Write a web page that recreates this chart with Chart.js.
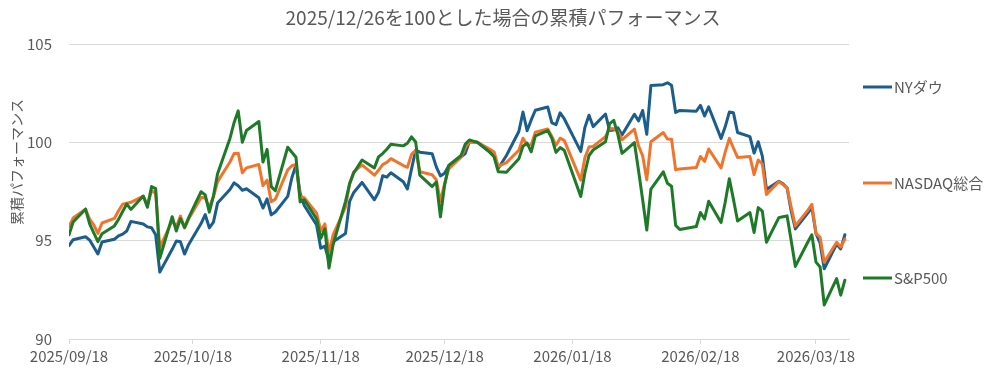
<!DOCTYPE html>
<html><head><meta charset="utf-8">
<script src="https://cdn.jsdelivr.net/npm/chart.js@4.4.1/dist/chart.umd.min.js"></script>
<style>html,body{margin:0;padding:0;background:#ffffff;}#wrap{width:989px;height:382px;}</style>
</head><body><div id="wrap"><canvas id="c" width="989" height="382"></canvas></div>
<script>
const chartTitle = '2025/12/26を100とした場合の累積パフォーマンス';
const yAxisTitle = '累積パフォーマンス';
const seriesNames = ['NYダウ', 'NASDAQ総合', 'S&P500'];
const xTickLabels = ['2025/09/18','2025/10/18','2025/11/18','2025/12/18','2026/01/18','2026/02/18','2026/03/18'];
const xAxisStart = '2025/09/18';
const xAxisEnd = '2026/03/26';
const yTicks = [90, 95, 100, 105];

const dates = [
'2025/09/18','2025/09/19','2025/09/22','2025/09/23','2025/09/24','2025/09/25','2025/09/26','2025/09/29','2025/09/30',
'2025/10/01','2025/10/02','2025/10/03','2025/10/06','2025/10/07','2025/10/08','2025/10/09','2025/10/10','2025/10/13','2025/10/14','2025/10/15','2025/10/16','2025/10/17','2025/10/20','2025/10/21','2025/10/22','2025/10/23','2025/10/24','2025/10/27','2025/10/28','2025/10/29','2025/10/30','2025/10/31',
'2025/11/03','2025/11/04','2025/11/05','2025/11/06','2025/11/07','2025/11/10','2025/11/11','2025/11/12','2025/11/13','2025/11/14','2025/11/17','2025/11/18','2025/11/19','2025/11/20','2025/11/21','2025/11/24','2025/11/25','2025/11/26','2025/11/28',
'2025/12/01','2025/12/02','2025/12/03','2025/12/04','2025/12/05','2025/12/08','2025/12/09','2025/12/10','2025/12/11','2025/12/12','2025/12/15','2025/12/16','2025/12/17','2025/12/18','2025/12/19','2025/12/22','2025/12/23','2025/12/24','2025/12/26','2025/12/29','2025/12/30','2025/12/31',
'2026/01/02','2026/01/05','2026/01/06','2026/01/07','2026/01/08','2026/01/09','2026/01/12','2026/01/13','2026/01/14','2026/01/15','2026/01/16','2026/01/20','2026/01/21','2026/01/22','2026/01/23','2026/01/26','2026/01/27','2026/01/28','2026/01/29','2026/01/30',
'2026/02/02','2026/02/03','2026/02/04','2026/02/05','2026/02/06','2026/02/09','2026/02/10','2026/02/11','2026/02/12','2026/02/13','2026/02/17','2026/02/18','2026/02/19','2026/02/20','2026/02/23','2026/02/24','2026/02/25','2026/02/26','2026/02/27',
'2026/03/02','2026/03/03','2026/03/04','2026/03/05','2026/03/06','2026/03/09','2026/03/10','2026/03/11','2026/03/12','2026/03/13','2026/03/16','2026/03/17','2026/03/18','2026/03/19','2026/03/20','2026/03/23','2026/03/24','2026/03/25'
];

const nyDow = [
94.75,95.05,95.2,95.03,94.68,94.32,94.93,95.07,95.24,
95.33,95.49,95.98,95.85,95.7,95.66,95.3,93.4,94.56,94.98,94.94,94.32,94.81,95.87,96.33,95.65,95.94,96.91,97.6,97.94,97.79,97.56,97.64,
97.18,96.66,97.13,96.31,96.46,97.25,98.2,98.85,97.43,96.79,95.8,94.62,94.72,93.93,94.94,95.36,97.0,97.45,97.96,
97.08,97.46,98.3,98.23,98.45,98.0,97.63,98.65,99.6,99.5,99.42,98.75,98.29,98.43,98.8,99.27,99.43,100.03,100,99.49,99.3,98.67,
99.33,100.55,101.54,100.59,101.14,101.63,101.8,100.99,100.9,101.5,101.2,99.54,100.75,101.38,100.8,101.44,100.6,100.63,100.74,100.37,
101.43,101.09,101.62,100.41,102.89,102.93,103.03,102.9,101.52,101.62,101.58,101.88,101.34,101.8,100.2,100.79,101.54,101.5,100.5,
100.29,99.45,100.03,99.3,97.6,98.02,97.89,97.68,96.5,95.6,96.4,96.68,95.37,94.87,93.57,94.83,94.58,95.3
];

const nasdaqComposite = [
95.7,96.15,96.6,96.1,95.8,95.37,95.9,96.13,96.52,
96.85,96.9,96.95,97.26,96.8,97.55,97.4,94.65,96.02,95.7,96.25,95.64,96.1,97.2,97.18,96.7,97.23,98.0,99.0,99.43,99.45,98.45,98.7,
98.87,97.8,98.08,96.98,97.11,98.6,98.81,98.87,97.23,97.18,96.4,95.5,95.85,94.36,95.3,96.7,97.9,98.5,98.85,
98.33,98.58,98.87,98.98,99.17,98.82,98.73,99.39,99.6,98.5,98.35,98.1,96.99,97.9,98.65,99.25,99.71,100.03,100,99.65,99.51,98.78,
98.97,99.6,100.21,99.87,99.88,100.52,100.68,100.3,99.85,100.21,100.1,98.08,99.22,99.76,99.79,100.29,100.7,100.69,100.56,100.13,
100.67,99.82,99.32,98.1,100.03,100.5,100.17,100.16,98.6,98.65,98.72,99.28,99.03,99.66,98.7,99.5,100.2,99.7,99.23,
99.28,98.36,99.1,98.9,97.35,98.0,97.85,97.68,96.7,95.75,96.54,96.85,95.37,95.17,93.9,94.92,94.67,95.08
];

const sp500 = [
95.3,95.95,96.6,95.85,95.4,94.95,95.35,95.75,96.08,
96.48,96.86,96.59,97.27,96.7,97.75,97.65,94.1,96.22,95.49,96.12,95.67,96.17,97.49,97.33,96.45,97.28,98.4,100.2,101.0,101.6,100.0,100.6,
101.06,99.0,99.64,97.75,97.54,99.75,99.5,99.24,96.97,97.08,96.1,95.12,95.6,93.61,94.8,97.0,97.9,98.45,99.1,
98.7,99.26,99.43,99.65,99.9,99.82,99.95,100.28,100.02,98.33,97.75,97.98,96.21,97.8,98.82,99.33,99.9,100.12,100,99.5,99.26,98.51,
98.48,99.16,99.8,99.96,99.52,100.33,100.6,100.2,99.49,99.73,99.6,97.25,98.44,99.33,99.61,100.03,100.95,101.12,100.39,99.44,
99.99,98.57,97.08,95.54,97.62,98.5,97.92,97.77,95.78,95.57,95.72,96.43,96.1,97.0,95.92,96.95,98.15,97.1,96.0,
96.43,95.42,96.68,96.5,94.92,96.17,96.22,96.26,95.0,93.69,94.92,95.3,93.91,93.66,91.73,93.07,92.23,92.99
];

const seriesColors = ['#1b5d8c', '#f2742c', '#1d7a26'];
const FONT = "'Noto Sans CJK JP', 'Noto Sans', sans-serif";
const TEXT = '#595959';
const GRID = '#d9d9d9';

const dayOf = s => { const p = s.split('/').map(Number); return Date.UTC(p[0], p[1]-1, p[2]) / 86400000; };
const d0 = dayOf(xAxisStart);
const xs = dates.map(s => dayOf(s) - d0);
const toPts = vals => vals.map((v, i) => ({x: xs[i], y: v}));
const xTickVals = xTickLabels.map(s => dayOf(s) - d0);

const seriesValues = [nyDow, nasdaqComposite, sp500];
const drawOrder = [3, 2, 1];

const datasets = seriesNames.map((name, i) => ({
  label: name,
  data: toPts(seriesValues[i]),
  borderColor: seriesColors[i],
  backgroundColor: seriesColors[i],
  borderWidth: 3,
  pointRadius: 0,
  tension: 0,
  borderJoinStyle: 'round',
  borderCapStyle: 'round',
  fill: false,
  order: drawOrder[i]
}));

const bgPlugin = {
  id: 'bg',
  beforeDraw(chart) {
    const c = chart.ctx; c.save(); c.fillStyle = '#ffffff';
    c.fillRect(0, 0, chart.width, chart.height); c.restore();
  }
};

const extrasPlugin = {
  id: 'extras',
  afterDraw(chart) {
    const c = chart.ctx;
    // chart title
    c.save();
    c.fillStyle = TEXT;
    c.font = '19px ' + FONT;
    c.textAlign = 'center';
    c.textBaseline = 'middle';
    c.fillText(chartTitle, 503, 18);
    c.restore();
    // y axis title
    c.save();
    c.fillStyle = TEXT;
    c.font = '14px ' + FONT;
    c.textAlign = 'center';
    c.textBaseline = 'middle';
    c.translate(17, 162);
    c.rotate(-Math.PI / 2);
    c.fillText(yAxisTitle, 0, 0);
    c.restore();
    // legend
    const legendY = [87, 183, 278];
    c.save();
    c.font = '15px ' + FONT;
    c.textBaseline = 'middle';
    c.textAlign = 'left';
    chart.data.datasets.forEach((ds, i) => {
      const y = legendY[i];
      c.strokeStyle = ds.borderColor;
      c.lineWidth = 3;
      c.beginPath(); c.moveTo(863, y); c.lineTo(892, y); c.stroke();
      c.fillStyle = TEXT;
      c.fillText(ds.label, 894, y);
    });
    c.restore();
  }
};

new Chart(document.getElementById('c'), {
  type: 'line',
  data: { datasets },
  options: {
    responsive: false,
    animation: false,
    devicePixelRatio: 1,
    events: [],
    layout: { padding: { left: 0, right: 140, top: 44, bottom: 0 } },
    plugins: {
      legend: { display: false },
      tooltip: { enabled: false },
      title: { display: false }
    },
    scales: {
      x: {
        type: 'linear', min: 0, max: dayOf(xAxisEnd) - d0,
        afterBuildTicks: s => { s.ticks = xTickVals.map(v => ({ value: v })); },
        afterFit: s => { s.height = 43; },
        ticks: {
          autoSkip: false, maxRotation: 0, color: TEXT, padding: 3,
          font: { size: 15, family: FONT },
          callback: (v, i) => xTickLabels[i]
        },
        grid: { drawOnChartArea: false, drawTicks: true, tickLength: 5, color: GRID },
        border: { display: true, color: GRID, width: 1 }
      },
      y: {
        min: 90, max: 105,
        afterBuildTicks: s => { s.ticks = yTicks.map(v => ({ value: v })); },
        afterFit: s => { s.width = 69; },
        ticks: { color: TEXT, padding: 17, font: { size: 15, family: FONT } },
        grid: { color: GRID, drawTicks: false, lineWidth: 1 },
        border: { display: false }
      }
    }
  },
  plugins: [bgPlugin, extrasPlugin]
});
</script>
</body></html>
